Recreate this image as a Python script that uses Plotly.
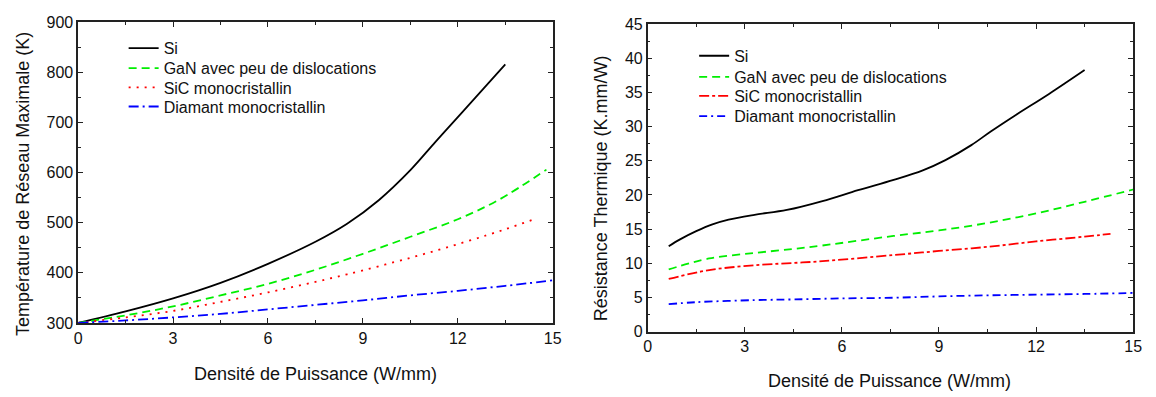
import plotly.graph_objects as go

# ---- Left chart: Température de Réseau Maximale (K) ----
L_si_x = [0, 1.5, 3, 4.5, 6, 7.5, 8.5, 9.5, 10.5, 11.3, 12.1, 13.5]
L_si_y = [300, 323, 349, 380, 418, 462, 498, 545, 605, 662, 718, 816]
L_gan_x = [0, 1.5, 3, 4.5, 6, 7.5, 9, 10.5, 12, 13.3, 14.8]
L_gan_y = [300, 315, 333, 355, 378, 406, 438, 472, 507, 546, 606]
L_sic_x = [0, 1.5, 3, 4.5, 6, 7.5, 8.5, 10.5, 12.25, 13.5, 14.5]
L_sic_y = [300, 311, 324, 342, 361, 382, 397, 430, 462, 487, 509]
L_dia_x = [0, 1.5, 3, 4.5, 6, 7.5, 9, 10.5, 12, 13.5, 15]
L_dia_y = [300, 305, 311, 318, 327, 336, 345, 355, 364, 374, 385]

# ---- Right chart: Résistance Thermique (K.mm/W) ----
R_si_x = [0.65, 1.0, 1.5, 2.0, 2.5, 3.3, 4.3, 5.4, 6.5, 7.6, 8.5, 9.2, 10.0, 10.6, 11.4, 12.4, 13.5]
R_si_y = [12.5, 13.5, 14.7, 15.7, 16.4, 17.1, 17.8, 19.1, 20.7, 22.2, 23.6, 25.1, 27.3, 29.3, 31.8, 34.8, 38.3]
R_gan_x = [0.65, 1.9, 3.3, 4.5, 5.4, 7.6, 9.0, 10.5, 12.0, 13.5, 15.0]
R_gan_y = [9.1, 10.7, 11.5, 12.1, 12.6, 14.0, 14.8, 15.9, 17.3, 19.0, 20.8]
R_sic_x = [0.65, 1.9, 3.3, 5.4, 7.6, 9.0, 10.5, 12.0, 13.5, 14.3]
R_sic_y = [7.7, 9.0, 9.7, 10.3, 11.2, 11.8, 12.4, 13.2, 13.9, 14.3]
R_dia_x = [0.65, 1.5, 3.3, 4.5, 6.0, 7.6, 9.0, 10.5, 12.0, 13.5, 15.0]
R_dia_y = [4.0, 4.3, 4.6, 4.7, 4.85, 4.95, 5.15, 5.3, 5.4, 5.5, 5.65]

names = ["Si", "GaN avec peu de dislocations", "SiC monocristallin", "Diamant monocristallin"]
colors = ["#000000", "#00ee00", "#ff0000", "#0000ff"]
left_dash = ["solid", "8px,5px", "2px,6px", "10px,4px,2px,4px"]
right_dash = ["solid", "8px,5px", "10px,3px,3px,3px", "8px,4px,2px,4px"]

FONT = "Liberation Sans, Arial, Helvetica, sans-serif"
W, H = 1156, 397
def px(v): return v / W
def py(v): return 1 - v / H

left_leg_y = [42, 63, 83, 103]
right_leg_y = [50, 72, 92, 113]

fig = go.Figure()
left = [(L_si_x, L_si_y), (L_gan_x, L_gan_y), (L_sic_x, L_sic_y), (L_dia_x, L_dia_y)]
right = [(R_si_x, R_si_y), (R_gan_x, R_gan_y), (R_sic_x, R_sic_y), (R_dia_x, R_dia_y)]
legends = {}
for i, (xs, ys) in enumerate(left):
    lid = "legend" if i == 0 else f"legend{i + 1}"
    fig.add_trace(go.Scatter(x=xs, y=ys, mode="lines", name=names[i], line_shape="spline",
                             line=dict(color=colors[i], width=1.8, dash=left_dash[i], smoothing=1.0),
                             xaxis="x", yaxis="y", legend=lid))
    legends[lid] = dict(x=px(121), y=py(left_leg_y[i]), xanchor="left", yanchor="middle",
                        bgcolor="rgba(0,0,0,0)", font=dict(family=FONT, size=16, color="#111"),
                        itemwidth=30)
for i, (xs, ys) in enumerate(right):
    lid = f"legend{i + 5}"
    fig.add_trace(go.Scatter(x=xs, y=ys, mode="lines", name=names[i], line_shape="spline",
                             line=dict(color=colors[i], width=1.8, dash=right_dash[i], smoothing=1.0),
                             xaxis="x2", yaxis="y2", legend=lid))
    legends[lid] = dict(x=px(698), y=py(right_leg_y[i]), xanchor="left", yanchor="middle",
                        bgcolor="rgba(0,0,0,0)", font=dict(family=FONT, size=16, color="#111"),
                        itemwidth=30)

axis_common = dict(showline=True, linecolor="#222", linewidth=1.5, mirror="ticks",
                   ticks="inside", ticklen=5, tickwidth=1.2, tickcolor="#222",
                   showgrid=False, zeroline=False,
                   tickfont=dict(family=FONT, size=16, color="#111"))

fig.update_layout(
    width=W, height=H, margin=dict(l=0, r=0, t=0, b=0),
    paper_bgcolor="white", plot_bgcolor="white",
    font=dict(family=FONT, color="#111"),
    xaxis=dict(domain=[px(75), px(555)], range=[0, 15], dtick=3, anchor="y",
               minor=dict(ticks="inside", dtick=1.5, ticklen=3, tickcolor="#222"), **axis_common),
    yaxis=dict(domain=[py(329), py(15)], range=[300, 900], dtick=100, anchor="x",
               minor=dict(ticks="inside", dtick=50, ticklen=3, tickcolor="#222"), **axis_common),
    xaxis2=dict(domain=[px(651), px(1142)], range=[0, 15], dtick=3, anchor="y2",
                minor=dict(ticks="inside", dtick=1.5, ticklen=3, tickcolor="#222"), **axis_common),
    yaxis2=dict(domain=[py(338), py(17)], range=[0, 45], dtick=5, anchor="x2",
                minor=dict(ticks="inside", dtick=2.5, ticklen=3, tickcolor="#222"), **axis_common),
    showlegend=True,
    **legends,
)

ann = dict(showarrow=False, font=dict(family=FONT, size=18, color="#111"),
           xref="paper", yref="paper", xanchor="center", yanchor="middle")
fig.add_annotation(text="Densité de Puissance (W/mm)", x=px(315), y=py(382), **ann)
fig.add_annotation(text="Densité de Puissance (W/mm)", x=px(896), y=py(390), **ann)
fig.add_annotation(text="Température de Réseau Maximale (K)", x=px(19), y=py(184), textangle=-90, **ann)
fig.add_annotation(text="Résistance Thermique (K.mm/W)", x=px(604), y=py(188), textangle=-90, **ann)

fig.write_html("out.html")
